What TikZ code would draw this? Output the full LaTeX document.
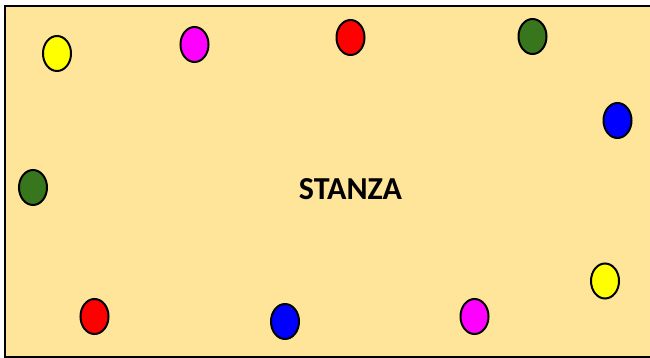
\documentclass[tikz,border=0pt]{standalone}
\usepackage{fontspec}
\newfontfamily\roomfont{Carlito}
\usepackage{tikz}
\usetikzlibrary{shapes.geometric}
\definecolor{roomfill}{HTML}{FFE599}
\definecolor{darkgreen}{HTML}{38761D}
\definecolor{ballmagenta}{HTML}{FF00FF}
\definecolor{ballyellow}{HTML}{FFFF00}
\definecolor{ballred}{HTML}{FF0000}
\definecolor{ballblue}{HTML}{0000FF}

\begin{document}
\begin{tikzpicture}[x=1pt,y=-1pt,
  dot/.style={ellipse,draw=black,line width=2pt,inner sep=0pt,minimum width=28pt,minimum height=35pt}]
\useasboundingbox (0,0) rectangle (650,358);
% room
\draw[fill=roomfill,line width=1.2pt] (5,6) rectangle (652,357);
\node[font=\roomfont\bfseries\fontsize{32}{38}\selectfont] (stanza) at (350.5,189.5) {STANZA};
% balls along the walls
\foreach \x/\y/\c/\n in {57/53.5/ballyellow/ya,194.5/44.5/ballmagenta/ma,350.5/37.5/ballred/ra,532.5/36.5/darkgreen/ga,
  617.5/120.5/ballblue/ba,33/187.5/darkgreen/gb,605/281/ballyellow/yb,
  94.5/316.5/ballred/rb,285/321.5/ballblue/bb,474.5/316.5/ballmagenta/mb}
  \node[dot,fill=\c] (\n) at (\x,\y) {};
\end{tikzpicture}
\end{document}
